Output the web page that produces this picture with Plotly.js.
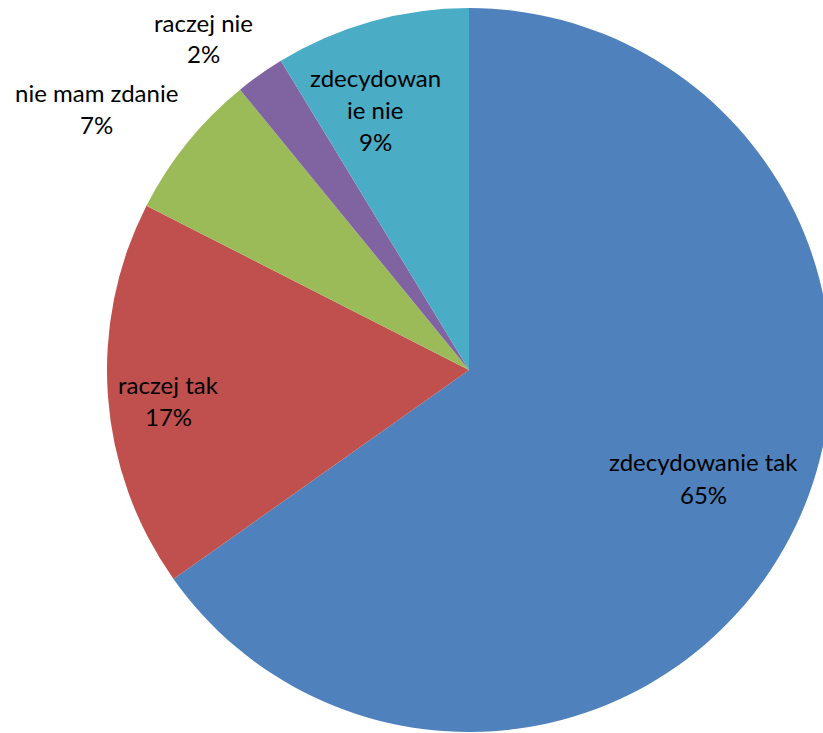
<!DOCTYPE html>
<html>
<head>
<meta charset="utf-8">
<script src="https://cdn.plot.ly/plotly-3.0.1.min.js"></script>
<style>
html, body { margin: 0; padding: 0; overflow: hidden; background: #fff; }
#chart { width: 900px; height: 733px; }
</style>
</head>
<body>
<div id="chart"></div>
<script>
// Data
var labels = ["zdecydowanie tak", "raczej tak", "nie mam zdanie", "raczej nie", "zdecydowanie nie"];
var values = [65.2, 17.3, 6.6, 2.2, 8.7];
var colors = ["#4F81BD", "#C0504D", "#9BBB59", "#8064A2", "#4BACC6"];
// Label text lines as shown (wrapped like the original)
var labelLines = [["zdecydowanie tak"], ["raczej tak"], ["nie mam zdanie"], ["raczej nie"], ["zdecydowan", "ie nie"]];

// Layout (pixel positions of label blocks: center x, first-line y)
var W = 900, H = 733;
var labelPos = [[703, 462], [168, 384], [96, 92], [203, 22], [375, 77]];
var lineGap = 32;

var total = values.reduce(function (a, b) { return a + b; }, 0);
var annotations = [];
labels.forEach(function (lab, i) {
  var lines = labelLines[i].concat([Math.round(values[i] / total * 100) + "%"]);
  lines.forEach(function (t, k) {
    annotations.push({
      xref: "paper", yref: "paper",
      x: labelPos[i][0] / W,
      y: 1 - (labelPos[i][1] + k * lineGap) / H,
      xanchor: "center", yanchor: "middle",
      text: t, showarrow: false,
      font: { family: "Lato, 'Liberation Sans', sans-serif", size: 24, color: "#000" }
    });
  });
});

var trace = {
  type: "pie",
  labels: labels,
  values: values,
  sort: false,
  direction: "clockwise",
  rotation: 0,
  marker: { colors: colors, line: { width: 0 } },
  textinfo: "none",
  hoverinfo: "label+percent",
  domain: { x: [107 / W, 831 / W], y: [1 / H, 725 / H] },
  showlegend: false
};

Plotly.newPlot("chart", [trace], {
  width: W, height: H,
  margin: { l: 0, r: 0, t: 0, b: 0 },
  paper_bgcolor: "#fff",
  showlegend: false,
  annotations: annotations
}, { displayModeBar: false, staticPlot: true });
</script>
</body>
</html>
